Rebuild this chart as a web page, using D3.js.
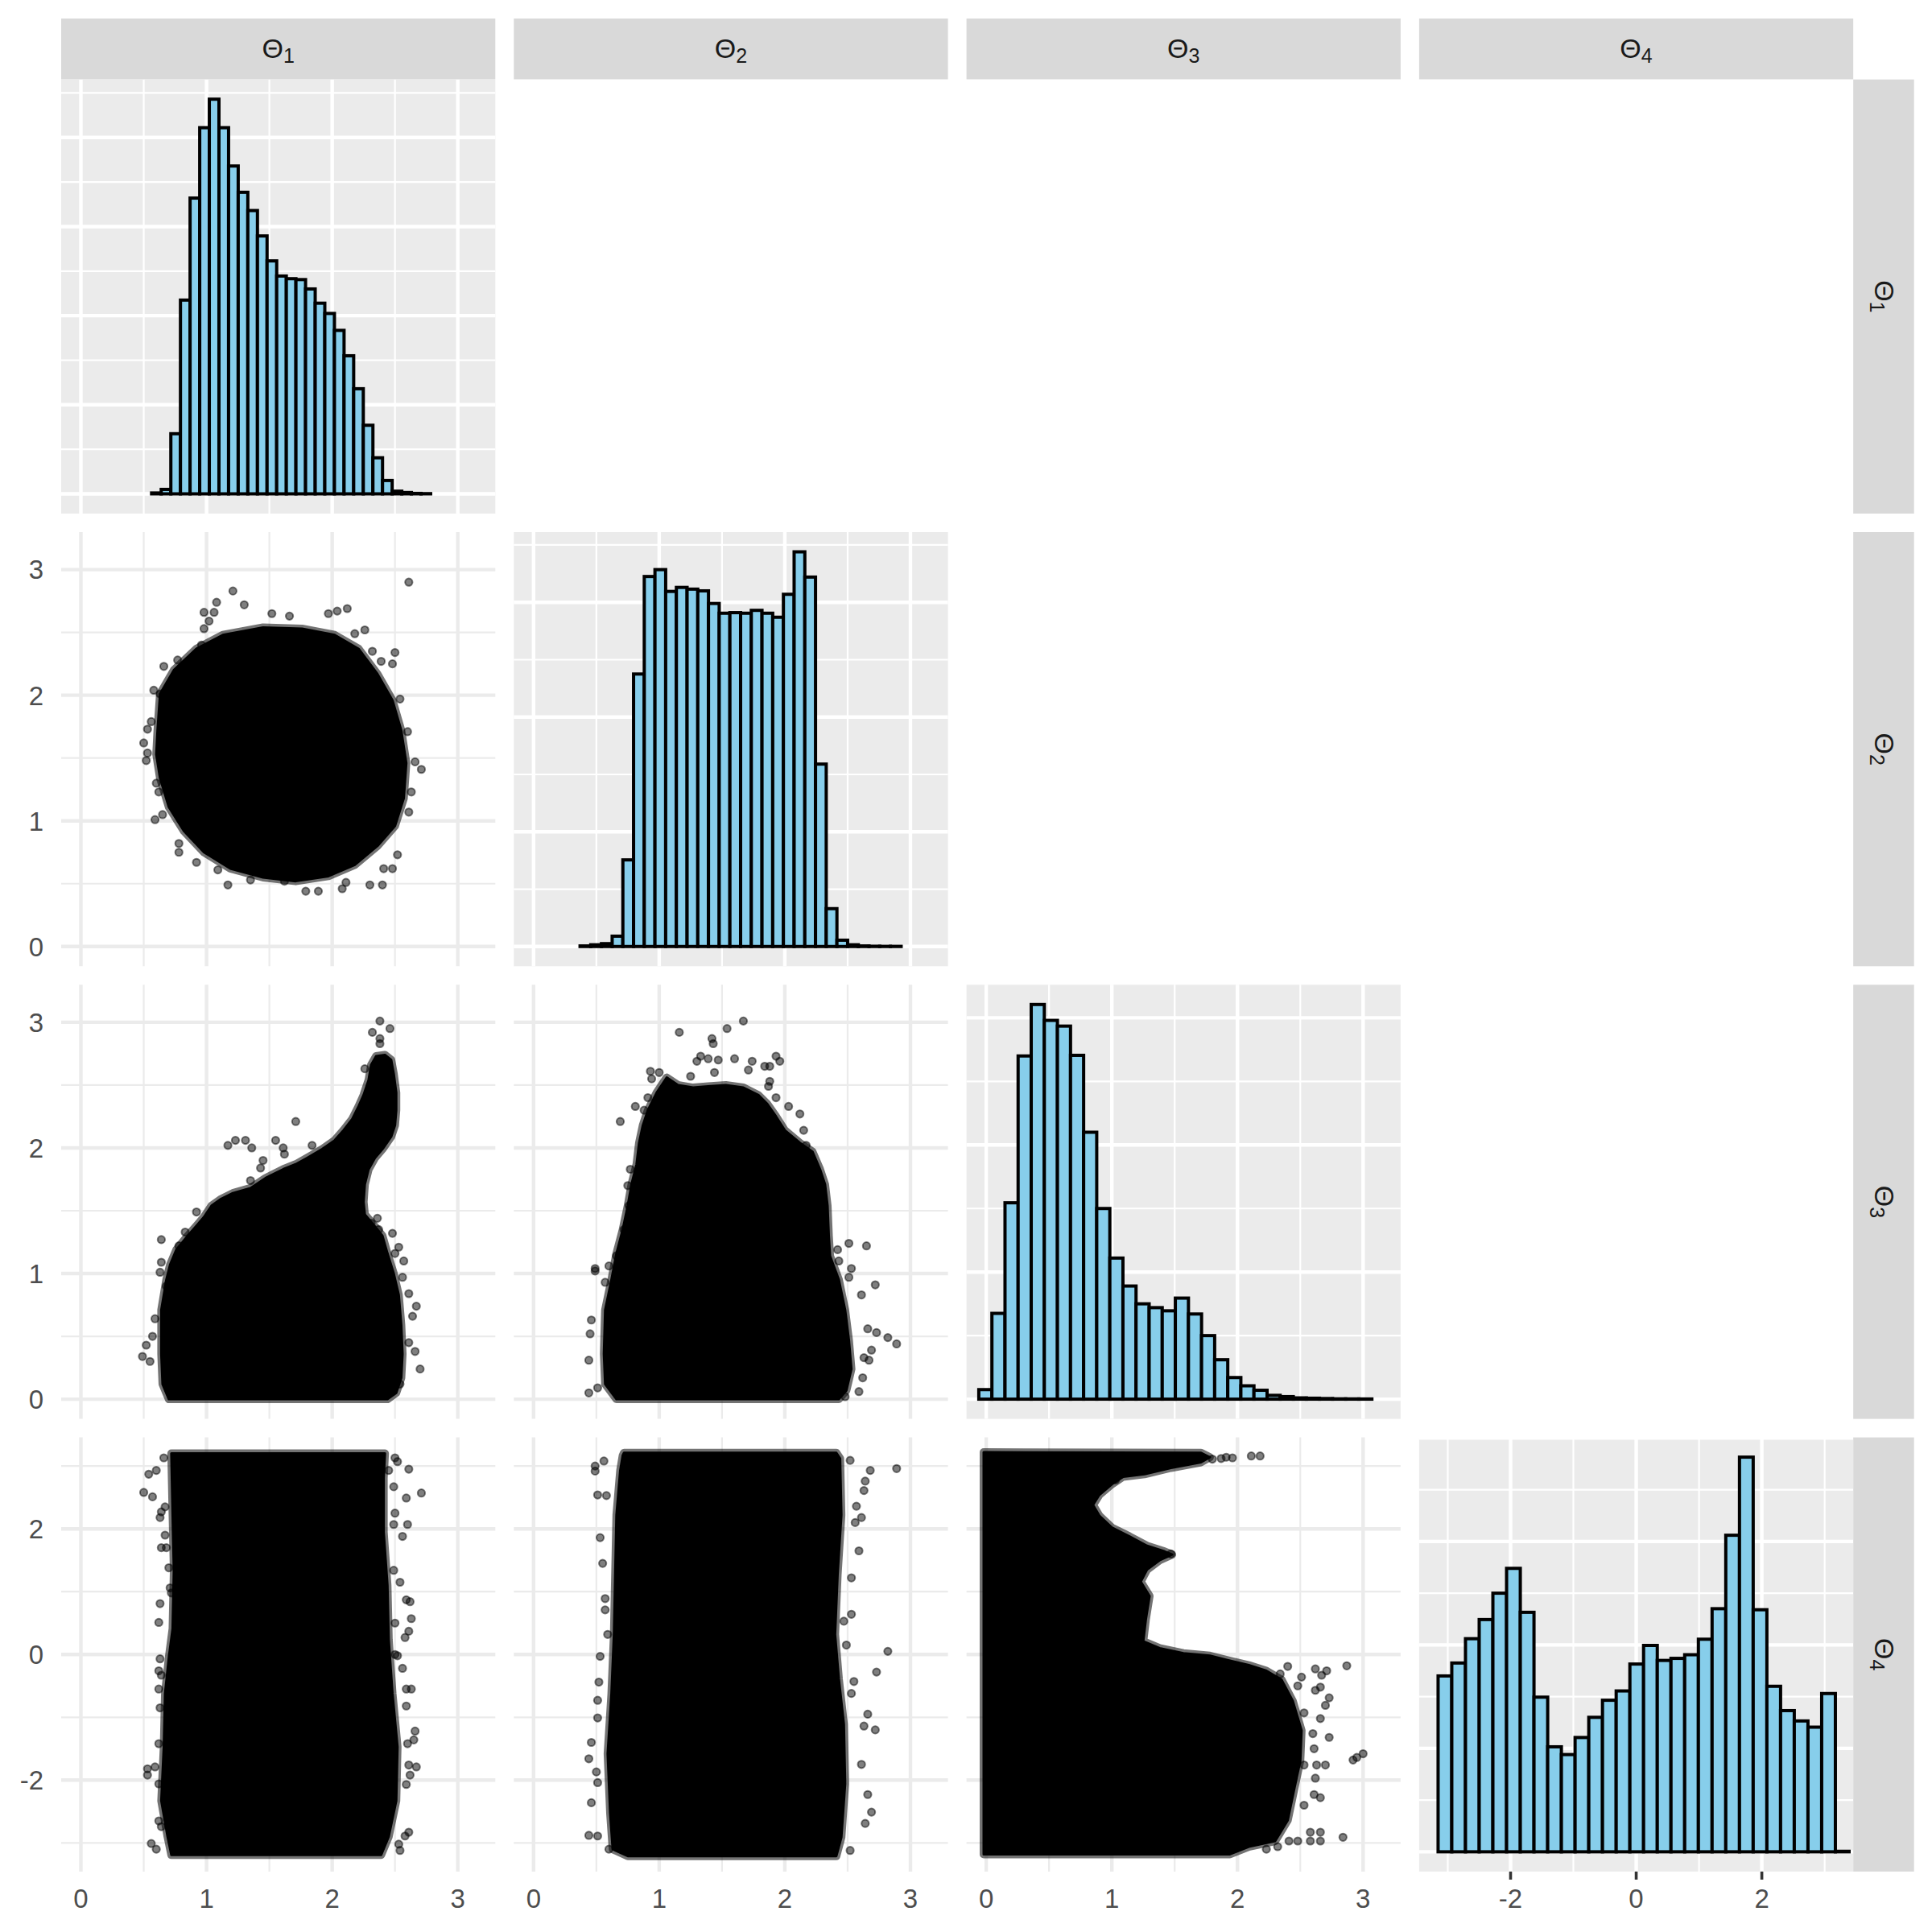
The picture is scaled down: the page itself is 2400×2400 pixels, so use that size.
<!DOCTYPE html>
<html>
<head>
<meta charset="utf-8">
<script src="https://cdn.jsdelivr.net/npm/d3@7"></script>
<style>
  body { margin: 0; background: #ffffff; }
</style>
</head>
<body>
<div id="chart"></div>
<script>
// Variables and their ranges
//
const thetaNames  = ["1", "2", "3", "4"];
const thetaRanges = [[0, Math.PI], [0, Math.PI], [0, Math.PI], [-Math.PI, Math.PI]];
const thetaMajor  = [[0, 1, 2, 3], [0, 1, 2, 3], [0, 1, 2, 3], [-2, 0, 2]];
const thetaMinor  = [[0.5, 1.5, 2.5], [0.5, 1.5, 2.5], [0.5, 1.5, 2.5], [-3, -1, 1, 3]];
const thetaLabels = [["0", "1", "2", "3"], ["0", "1", "2", "3"], ["0", "1", "2", "3"], ["-2", "0", "2"]];

// Histograms (30 bins, counts in grid units)
//
const histStarts = [0.486, 0.370, -0.059, -3.154];
const histWidths = [0.0766, 0.0852, 0.1043, 0.2181];
const hist1Counts = [0, 0.02, 0.1, 1.35, 4.35, 6.64, 8.22, 8.86, 8.22, 7.36, 6.77, 6.36, 5.79, 5.23, 4.89,
                     4.83, 4.81, 4.60, 4.28, 4.05, 3.67, 3.10, 2.36, 1.54, 0.81, 0.30, 0.06, 0.03, 0.01, 0.005];
const hist2Counts = [0.01, 0.03, 0.05, 0.18, 1.51, 4.75, 6.45, 6.57, 6.19, 6.26, 6.23, 6.20, 5.98, 5.81, 5.82,
                     5.81, 5.86, 5.81, 5.74, 6.14, 6.88, 6.44, 3.18, 0.66, 0.11, 0.03, 0.01, 0.005, 0.003, 0.003];
const hist3Counts = [0.15, 1.35, 3.09, 5.40, 6.21, 5.96, 5.87, 5.41, 4.20, 3.00, 2.22, 1.78, 1.50, 1.44, 1.39,
                     1.59, 1.34, 1.00, 0.62, 0.34, 0.21, 0.14, 0.06, 0.04, 0.02, 0.015, 0.01, 0.005, 0.004, 0.003];
const hist4Counts = [3.40, 3.65, 4.12, 4.49, 5.00, 5.48, 4.63, 2.99, 2.03, 1.88, 2.21, 2.60, 2.93, 3.11, 3.63,
                     3.99, 3.70, 3.74, 3.81, 4.11, 4.70, 6.12, 7.63, 4.68, 3.20, 2.73, 2.53, 2.41, 3.06, 0.01];

// Dense point clouds (outline, [x, y]) and scattered points outside them
//
const cloud12 = [[0.61,1.72],[0.63,2.01],[0.74,2.20],[0.92,2.37],[1.13,2.48],[1.45,2.54],[1.76,2.53],[2.02,2.48],
  [2.21,2.37],[2.36,2.17],[2.48,1.96],[2.55,1.72],[2.59,1.46],[2.57,1.18],[2.50,0.96],[2.36,0.80],[2.18,0.65],
  [1.97,0.56],[1.71,0.52],[1.45,0.55],[1.19,0.62],[0.98,0.75],[0.82,0.92],[0.70,1.11],[0.63,1.34],[0.60,1.53]];
const points12 = [[2.61,2.90],[1.21,2.83],[1.08,2.74],[1.30,2.72],[0.98,2.66],[1.06,2.66],[1.52,2.65],[1.66,2.63],
  [1.97,2.65],[2.12,2.69],[2.04,2.67],[2.26,2.52],[2.18,2.49],[2.32,2.35],[2.50,2.34],[2.48,2.25],[2.39,2.27],
  [2.54,1.97],[2.60,1.71],[2.66,1.47],[2.71,1.41],[2.63,1.23],[2.61,1.07],[2.52,0.73],[2.48,0.62],[2.41,0.62],
  [2.40,0.49],[2.30,0.49],[2.11,0.51],[2.08,0.46],[1.89,0.44],[1.79,0.44],[1.62,0.52],[1.35,0.53],[1.17,0.49],
  [1.09,0.61],[0.92,0.67],[0.78,0.75],[0.78,0.82],[0.65,1.05],[0.59,1.01],[0.62,1.23],[0.60,1.30],[0.52,1.48],
  [0.53,1.54],[0.50,1.62],[0.53,1.73],[0.56,1.79],[0.58,2.04],[0.63,2.01],[0.66,2.23],[0.77,2.28],[0.96,2.40],
  [0.98,2.53],[1.02,2.59]];

const cloud13 = [[0.70,0],[0.65,0.12],[0.64,0.36],[0.64,0.71],[0.68,0.95],[0.71,1.07],[0.76,1.19],[0.85,1.30],
  [0.92,1.38],[0.98,1.45],[1.04,1.54],[1.11,1.59],[1.21,1.64],[1.35,1.68],[1.47,1.76],[1.61,1.83],[1.71,1.87],
  [1.80,1.92],[1.92,1.99],[2.02,2.06],[2.09,2.14],[2.16,2.23],[2.21,2.33],[2.25,2.42],[2.29,2.54],[2.31,2.66],
  [2.35,2.73],[2.42,2.74],[2.47,2.70],[2.49,2.59],[2.51,2.44],[2.51,2.30],[2.50,2.18],[2.47,2.09],[2.40,1.99],
  [2.34,1.92],[2.29,1.83],[2.26,1.71],[2.25,1.57],[2.26,1.47],[2.32,1.40],[2.40,1.30],[2.44,1.16],[2.49,1.00],
  [2.53,0.83],[2.55,0.59],[2.56,0.36],[2.55,0.17],[2.51,0.05],[2.44,0]];
const points13 = [[2.38,3.01],[2.46,2.95],[2.32,2.92],[2.38,2.87],[2.38,2.83],[2.26,2.63],[1.71,2.21],[1.23,2.06],
  [1.17,2.02],[1.31,2.06],[1.36,2.00],[1.55,2.06],[1.61,2.00],[1.62,1.95],[1.84,2.02],[1.45,1.90],[1.43,1.84],
  [1.35,1.74],[0.92,1.49],[0.64,1.27],[0.83,1.33],[0.78,1.22],[0.64,1.09],[0.63,1.01],[0.68,0.90],[0.59,0.64],
  [0.52,0.43],[0.49,0.34],[0.55,0.30],[0.57,0.50],[2.36,1.44],[2.31,1.40],[2.48,1.32],[2.37,1.35],[2.53,1.21],
  [2.50,1.16],[2.57,1.10],[2.56,0.97],[2.61,0.84],[2.67,0.74],[2.64,0.66],[2.66,0.38],[2.61,0.45],[2.70,0.24],
  [2.54,0.12]];

const cloud23 = [[0.66,0],[0.57,0.12],[0.56,0.36],[0.57,0.71],[0.62,0.95],[0.66,1.16],[0.71,1.35],[0.75,1.54],
  [0.78,1.71],[0.82,1.87],[0.84,2.04],[0.87,2.18],[0.91,2.30],[0.98,2.44],[1.06,2.56],[1.15,2.50],[1.27,2.48],
  [1.39,2.49],[1.53,2.50],[1.67,2.48],[1.79,2.42],[1.86,2.35],[1.93,2.25],[2.00,2.14],[2.12,2.04],[2.22,1.97],
  [2.28,1.83],[2.32,1.71],[2.34,1.54],[2.35,1.30],[2.36,1.14],[2.43,0.95],[2.48,0.71],[2.51,0.47],[2.53,0.24],
  [2.49,0.07],[2.43,0]];
const points23 = [[1.67,3.01],[1.54,2.95],[1.16,2.92],[1.42,2.87],[1.43,2.83],[1.33,2.73],[1.39,2.71],[1.30,2.69],
  [1.47,2.70],[1.60,2.71],[1.74,2.69],[1.93,2.73],[1.96,2.69],[1.84,2.65],[1.88,2.65],[1.71,2.62],[0.93,2.61],
  [1.00,2.60],[0.94,2.55],[1.25,2.57],[1.44,2.60],[1.88,2.53],[1.87,2.49],[1.93,2.40],[2.03,2.33],[2.12,2.27],
  [2.15,2.14],[2.17,2.02],[0.81,2.33],[0.88,2.30],[0.69,2.21],[0.91,2.40],[0.77,1.83],[0.75,1.70],[0.72,1.35],
  [0.76,1.54],[0.66,1.14],[0.60,1.06],[0.49,1.04],[0.49,1.02],[0.57,0.93],[0.46,0.63],[0.45,0.52],[0.44,0.31],
  [0.51,0.09],[0.44,0.05],[2.51,1.24],[2.65,1.22],[2.42,1.19],[2.43,1.10],[2.53,1.04],[2.72,0.91],[2.51,0.97],
  [2.61,0.83],[2.66,0.56],[2.73,0.53],[2.82,0.49],[2.89,0.44],[2.69,0.39],[2.63,0.33],[2.67,0.31],[2.62,0.17],
  [2.59,0.06],[2.48,0.02]];

const cloud14 = [[0.72,3.20],[0.73,2.24],[0.74,1.33],[0.73,0.41],[0.70,-0.05],[0.67,-0.62],[0.66,-1.47],
  [0.64,-2.33],[0.69,-2.90],[0.72,-3.19],[2.39,-3.19],[2.45,-2.90],[2.51,-2.33],[2.52,-1.47],[2.48,-0.62],
  [2.45,0.24],[2.44,1.10],[2.41,1.95],[2.41,2.81],[2.42,3.20]];
const points14 = [[0.66,3.13],[0.60,2.93],[0.54,2.87],[0.50,2.58],[0.57,2.51],[2.50,3.13],[2.52,3.07],[2.61,2.95],
  [2.71,2.57],[2.45,2.93],[2.49,2.67],[2.59,2.49],[0.67,2.35],[0.64,2.27],[0.63,2.18],[2.50,2.25],[2.60,2.07],
  [2.49,2.07],[0.67,1.90],[2.56,1.88],[0.64,1.70],[0.68,1.70],[0.70,1.38],[2.54,1.15],[2.49,1.34],[2.62,0.84],
  [2.59,0.87],[0.71,1.06],[0.72,0.98],[0.63,0.81],[0.62,0.51],[2.63,0.57],[2.50,0.50],[2.61,0.37],[2.58,0.27],
  [2.50,0],[2.52,-0.02],[0.63,-0.07],[0.62,-0.26],[0.64,-0.33],[2.56,-0.22],[2.59,-0.55],[2.63,-0.55],
  [0.62,-0.55],[0.63,-0.85],[2.59,-0.82],[0.62,-1.42],[2.66,-1.22],[2.65,-1.36],[2.60,-1.42],[0.53,-1.82],
  [0.59,-1.79],[0.53,-1.92],[2.67,-1.79],[2.61,-1.76],[2.62,-1.92],[0.62,-2.06],[2.59,-2.07],[0.62,-2.65],
  [0.64,-2.74],[0.56,-3.01],[0.60,-3.10],[2.61,-2.83],[2.58,-2.89],[2.53,-3.02],[2.54,-3.12]];

const cloud24 = [[0.72,3.21],[2.41,3.21],[2.44,3.12],[2.45,2.22],[2.42,1.27],[2.40,0.32],[2.43,-0.39],
  [2.47,-1.11],[2.48,-2.06],[2.45,-2.91],[2.41,-3.21],[0.75,-3.21],[0.63,-3.10],[0.61,-2.53],[0.59,-1.58],
  [0.62,-0.63],[0.64,0.32],[0.65,1.27],[0.66,2.22],[0.69,2.93],[0.71,3.17]];
const points24 = [[0.49,3.00],[0.49,2.92],[0.56,3.08],[2.52,3.09],[2.68,2.93],[2.89,2.96],[2.64,2.76],[2.63,2.61],
  [0.51,2.54],[0.58,2.53],[2.57,2.36],[2.61,2.18],[2.56,2.10],[0.53,1.86],[2.59,1.65],[0.55,1.45],[2.53,1.22],
  [0.57,0.89],[0.57,0.71],[2.53,0.64],[2.47,0.53],[0.59,0.32],[2.49,0.15],[2.82,0.05],[0.53,-0.03],[2.73,-0.28],
  [2.55,-0.43],[0.52,-0.44],[0.51,-0.73],[2.53,-0.62],[0.51,-1.01],[2.66,-0.95],[2.63,-1.14],[2.72,-1.20],
  [0.46,-1.40],[0.44,-1.66],[0.50,-1.87],[0.51,-2.04],[2.61,-1.75],[2.66,-2.23],[0.46,-2.36],[2.69,-2.51],
  [2.64,-2.69],[0.44,-2.88],[0.51,-2.89],[2.52,-3.12],[0.60,-3.10]];

const cloud34 = [[-0.02,3.22],[1.71,3.21],[1.78,3.14],[1.71,3.06],[1.47,2.97],[1.26,2.87],[1.09,2.83],[1.00,2.71],
  [0.90,2.54],[0.85,2.38],[0.90,2.21],[1.00,2.02],[1.14,1.88],[1.28,1.73],[1.42,1.64],[1.48,1.59],[1.38,1.50],
  [1.28,1.35],[1.23,1.16],[1.30,0.93],[1.27,0.55],[1.25,0.21],[1.38,0.10],[1.57,0.02],[1.78,-0.02],[1.94,-0.10],
  [2.09,-0.17],[2.23,-0.26],[2.35,-0.40],[2.44,-0.74],[2.51,-1.21],[2.50,-1.69],[2.45,-2.16],[2.40,-2.64],
  [2.30,-2.97],[2.09,-3.06],[1.94,-3.18],[-0.02,-3.18]];
const points34 = [[1.80,3.11],[1.87,3.12],[1.91,3.14],[1.96,3.13],[2.11,3.16],[2.18,3.16],[1.47,1.60],[1.03,2.78],
  [2.40,-0.19],[2.62,-0.23],[2.71,-0.26],[2.87,-0.18],[2.67,-0.33],[2.34,-0.31],[2.51,-0.36],[2.48,-0.50],
  [2.66,-0.52],[2.73,-0.69],[2.70,-0.81],[2.62,-0.57],[2.53,-0.93],[2.66,-1.02],[2.60,-1.26],[2.73,-1.32],
  [2.61,-1.50],[2.92,-1.68],[3.00,-1.58],[2.95,-1.64],[2.53,-1.76],[2.63,-1.76],[2.70,-1.76],[2.62,-1.97],
  [2.61,-2.23],[2.66,-2.28],[2.53,-2.40],[2.58,-2.83],[2.66,-2.83],[2.58,-2.97],[2.66,-2.97],[2.48,-2.97],
  [2.84,-2.91],[2.41,-2.97],[2.32,-3.06],[2.23,-3.10]];

// Layout
//
const svg_width  = 2400;
const svg_height = 2400;
const panel      = 539.3;
const step       = 562.3;
const left0      = 76;
const top0       = 98.7;
const stripTop   = 23;
const stripSize  = 75.5;

const histCounts = [hist1Counts, hist2Counts, hist3Counts, hist4Counts];
const clouds = {"1-0": [cloud12, points12], "2-0": [cloud13, points13], "2-1": [cloud23, points23],
                "3-0": [cloud14, points14], "3-1": [cloud24, points24], "3-2": [cloud34, points34]};

const fontFamily = "'Liberation Sans', Arial, Helvetica, sans-serif";

let svg = d3.select("#chart").append("svg")
    .attr("width", svg_width)
    .attr("height", svg_height)
    .attr("viewBox", `0 0 ${svg_width} ${svg_height}`)
    .style("font-family", fontFamily);

svg.append("rect")
    .attr("width", svg_width)
    .attr("height", svg_height)
    .attr("fill", "#ffffff");

// Scales (ggplot style 5% expansion)
//
function colX(i) { return left0 + i * step; }
function rowY(j) { return top0 + j * step; }

function thetaScale(v, r0, r1) {
    let [lo, hi] = thetaRanges[v];
    let pad = (hi - lo) * 0.05;
    return d3.scaleLinear().domain([lo - pad, hi + pad]).range([r0, r1]);
}

let xScales = thetaNames.map((d, i) => thetaScale(i, colX(i), colX(i) + panel));
let yScales = thetaNames.map((d, j) => thetaScale(j, rowY(j) + panel, rowY(j)));

// Draw panels
//
for (let j = 0; j < 4; j++) {
    for (let i = 0; i <= j; i++) {
        let g  = svg.append("g").attr("class", `panel-${j}-${i}`);
        let x  = xScales[i];
        let x0 = colX(i), y0 = rowY(j);

        if (i === j) {
            // Histogram on diagonal
            //
            let counts = histCounts[i];
            let maxC   = d3.max(counts);
            let y = d3.scaleLinear().domain([-0.05 * maxC, 1.05 * maxC]).range([y0 + panel, y0]);

            g.append("rect")
                .attr("x", x0).attr("y", y0)
                .attr("width", panel).attr("height", panel)
                .attr("fill", "#EBEBEB");

            let yLines = d3.range(0, 1.05 * maxC, 1);
            g.selectAll(".vminor").data(thetaMinor[i]).join("line")
                .attr("x1", d => x(d)).attr("x2", d => x(d))
                .attr("y1", y0).attr("y2", y0 + panel)
                .attr("stroke", "#ffffff").attr("stroke-width", 2.2);
            g.selectAll(".hminor").data(yLines.filter(d => d % 2 === 1)).join("line")
                .attr("x1", x0).attr("x2", x0 + panel)
                .attr("y1", d => y(d)).attr("y2", d => y(d))
                .attr("stroke", "#ffffff").attr("stroke-width", 2.2);
            g.selectAll(".vmajor").data(thetaMajor[i]).join("line")
                .attr("x1", d => x(d)).attr("x2", d => x(d))
                .attr("y1", y0).attr("y2", y0 + panel)
                .attr("stroke", "#ffffff").attr("stroke-width", 4.4);
            g.selectAll(".hmajor").data(yLines.filter(d => d % 2 === 0)).join("line")
                .attr("x1", x0).attr("x2", x0 + panel)
                .attr("y1", d => y(d)).attr("y2", d => y(d))
                .attr("stroke", "#ffffff").attr("stroke-width", 4.4);

            let bins = counts.map((c, k) => ({
                lo: histStarts[i] + k * histWidths[i],
                hi: histStarts[i] + (k + 1) * histWidths[i],
                c: c
            }));
            g.selectAll(".bar").data(bins).join("rect")
                .attr("class", "bar")
                .attr("x", d => x(d.lo))
                .attr("width", d => x(d.hi) - x(d.lo))
                .attr("y", d => y(d.c))
                .attr("height", d => y(0) - y(d.c))
                .attr("fill", "#87CEEB")
                .attr("stroke", "#000000")
                .attr("stroke-width", 4);
        } else {
            // Scatter panel
            //
            let y = yScales[j];
            g.append("rect")
                .attr("x", x0).attr("y", y0)
                .attr("width", panel).attr("height", panel)
                .attr("fill", "#ffffff");

            g.selectAll(".vminor").data(thetaMinor[i]).join("line")
                .attr("x1", d => x(d)).attr("x2", d => x(d))
                .attr("y1", y0).attr("y2", y0 + panel)
                .attr("stroke", "#EBEBEB").attr("stroke-width", 2.2);
            g.selectAll(".hminor").data(thetaMinor[j]).join("line")
                .attr("x1", x0).attr("x2", x0 + panel)
                .attr("y1", d => y(d)).attr("y2", d => y(d))
                .attr("stroke", "#EBEBEB").attr("stroke-width", 2.2);
            g.selectAll(".vmajor").data(thetaMajor[i]).join("line")
                .attr("x1", d => x(d)).attr("x2", d => x(d))
                .attr("y1", y0).attr("y2", y0 + panel)
                .attr("stroke", "#EBEBEB").attr("stroke-width", 4.4);
            g.selectAll(".hmajor").data(thetaMajor[j]).join("line")
                .attr("x1", x0).attr("x2", x0 + panel)
                .attr("y1", d => y(d)).attr("y2", d => y(d))
                .attr("stroke", "#EBEBEB").attr("stroke-width", 4.4);

            let [cloud, pts] = clouds[`${j}-${i}`];
            let line = d3.line().x(d => x(d[0])).y(d => y(d[1])).curve(d3.curveLinearClosed);

            // soft fringe of overlapping translucent points
            g.append("path")
                .attr("d", line(cloud))
                .attr("fill", "none")
                .attr("stroke", "rgba(0,0,0,0.55)")
                .attr("stroke-width", 10)
                .attr("stroke-linejoin", "round");
            g.append("path")
                .attr("d", line(cloud))
                .attr("fill", "#000000")
                .attr("stroke", "#000000")
                .attr("stroke-width", 3)
                .attr("stroke-linejoin", "round");

            g.selectAll(".pt").data(pts).join("circle")
                .attr("class", "pt")
                .attr("cx", d => x(d[0]))
                .attr("cy", d => y(d[1]))
                .attr("r", 4.6)
                .attr("fill", "rgba(0,0,0,0.5)")
                .attr("stroke", "rgba(0,0,0,0.5)")
                .attr("stroke-width", 2);
        }
    }
}

// Bottom axis labels
//
let bottomY = rowY(3) + panel;
for (let i = 0; i < 4; i++) {
    let x = xScales[i];
    svg.append("g").selectAll("text").data(thetaMajor[i]).join("text")
        .attr("x", d => x(d))
        .attr("y", bottomY + 45)
        .attr("text-anchor", "middle")
        .attr("fill", "#4D4D4D")
        .style("font-size", "33px")
        .text((d, k) => thetaLabels[i][k]);
}

// Ticks only on the diagonal histogram of the last row
//
svg.append("g").selectAll("line").data(thetaMajor[3]).join("line")
    .attr("x1", d => xScales[3](d)).attr("x2", d => xScales[3](d))
    .attr("y1", bottomY).attr("y2", bottomY + 10)
    .attr("stroke", "#333333").attr("stroke-width", 3.6);

// Left axis labels (rows 2 to 4)
//
for (let j = 1; j < 4; j++) {
    let y = yScales[j];
    svg.append("g").selectAll("text").data(thetaMajor[j]).join("text")
        .attr("x", left0 - 22)
        .attr("y", d => y(d))
        .attr("dy", "0.36em")
        .attr("text-anchor", "end")
        .attr("fill", "#4D4D4D")
        .style("font-size", "33px")
        .text((d, k) => thetaLabels[j][k]);
}

// Strips
//
function stripLabel(sel, name) {
    sel.append("tspan").style("font-size", "34px").text("\u0398");
    sel.append("tspan").style("font-size", "25px").attr("dy", 6).text(name);
}

for (let i = 0; i < 4; i++) {
    svg.append("rect")
        .attr("x", colX(i)).attr("y", stripTop)
        .attr("width", panel).attr("height", stripSize)
        .attr("fill", "#D9D9D9");
    let t = svg.append("text")
        .attr("x", colX(i) + panel / 2)
        .attr("y", stripTop + stripSize / 2 + 11)
        .attr("text-anchor", "middle")
        .attr("fill", "#1A1A1A");
    stripLabel(t, thetaNames[i]);
}

let stripX = colX(3) + panel;
for (let j = 0; j < 4; j++) {
    svg.append("rect")
        .attr("x", stripX).attr("y", rowY(j))
        .attr("width", stripSize).attr("height", panel)
        .attr("fill", "#D9D9D9");
    let t = svg.append("text")
        .attr("transform", `translate(${stripX + stripSize / 2 - 11},${rowY(j) + panel / 2}) rotate(90)`)
        .attr("text-anchor", "middle")
        .attr("fill", "#1A1A1A");
    stripLabel(t, thetaNames[j]);
}
</script>
</body>
</html>
